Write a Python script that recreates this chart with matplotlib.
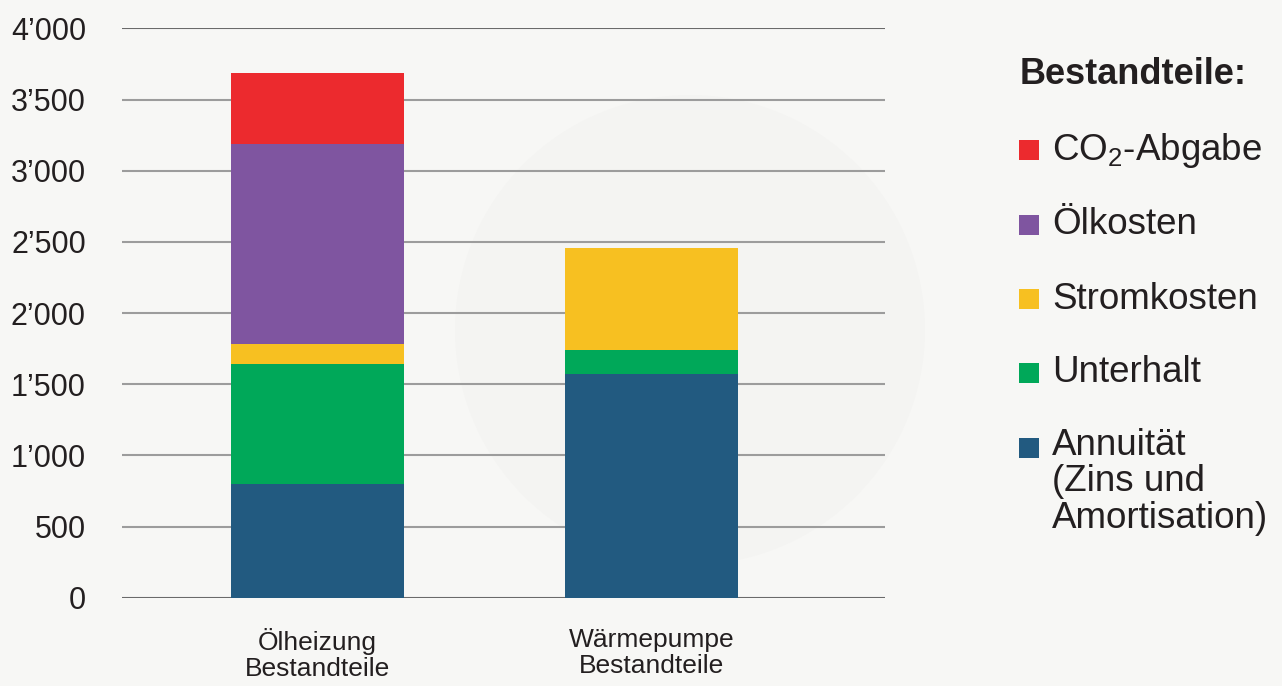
import matplotlib.pyplot as plt
from matplotlib.patches import Rectangle, Ellipse
from matplotlib.ticker import FuncFormatter

# data
categories = ['Ölheizung\nBestandteile', 'Wärmepumpe\nBestandteile']
series_names = ['Annuität\n(Zins und\nAmortisation)', 'Unterhalt', 'Stromkosten', 'Ölkosten', 'CO$_\\mathregular{2}$-Abgabe']
annuitaet = [800, 1570]
unterhalt = [845, 170]
stromkosten = [140, 720]
oelkosten = [1405, 0]
co2_abgabe = [495, 0]
yticks = [0, 500, 1000, 1500, 2000, 2500, 3000, 3500, 4000]

colors = ['#225a80', '#00a859', '#f7c021', '#7f55a0', '#ec2a2e']
bg = '#f7f7f5'
txt = '#231f20'

plt.rcParams['font.family'] = ['Liberation Sans', 'DejaVu Sans']
plt.rcParams['mathtext.fontset'] = 'custom'
plt.rcParams['mathtext.rm'] = 'Liberation Sans'

fig = plt.figure(figsize=(12.82, 6.86), dpi=100, facecolor=bg)

# faint round watermark behind the chart
fig.patches.append(Ellipse((690 / 1282, 1 - 330 / 686), 470 / 1282, 470 / 686,
                           transform=fig.transFigure, facecolor='#f4f4f2',
                           edgecolor='none', zorder=-5))

ax = fig.add_axes([0.0952, 0.1287, 0.595, 0.83])
ax.set_facecolor('none')

x = [0, 1]
bottom = [0, 0]
for vals, c in zip([annuitaet, unterhalt, stromkosten, oelkosten, co2_abgabe], colors):
    ax.bar(x, vals, width=0.519, bottom=bottom, color=c, zorder=3)
    bottom = [b + v for b, v in zip(bottom, vals)]

ax.set_xlim(-0.586, 1.70)
ax.set_ylim(0, 4000)
ax.set_yticks(yticks)
ax.yaxis.set_major_formatter(FuncFormatter(lambda v, p: f'{int(v):,}'.replace(',', '\u2019')))
for t in yticks:
    ax.axhline(t, color='#6a6a6a' if t in (0, 4000) else '#9c9c9c', lw=1.5, zorder=1)

for s in ax.spines.values():
    s.set_visible(False)
ax.tick_params(axis='y', length=0, pad=26, labelsize=22, labelcolor=txt)
ax.tick_params(axis='x', length=0, pad=22)
ax.set_xticks(x)
ax.set_xticklabels(categories, fontsize=19, color=txt, linespacing=1.1)

# legend
fig.text(1020 / 1282, 1 - 75 / 686, 'Bestandteile:', fontsize=26, fontweight='bold',
         color=txt, va='center', ha='left')
rows_y = [150, 225, 299, 373, 448]
legend_order = [4, 3, 2, 1, 0]
for y, i in zip(rows_y, legend_order):
    fig.patches.append(Rectangle((1019 / 1282, 1 - (y + 10) / 686), 20 / 1282, 20 / 686,
                                 transform=fig.transFigure, facecolor=colors[i],
                                 edgecolor='none'))
    va = 'top' if '\n' in series_names[i] else 'center'
    yy = 1 - (y - 20) / 686 if va == 'top' else 1 - y / 686
    fig.text(1052 / 1282, yy, series_names[i], fontsize=26.5, color=txt,
             va=va, ha='left', linespacing=1.05)

fig.savefig('out.png', dpi=100, facecolor=bg)
